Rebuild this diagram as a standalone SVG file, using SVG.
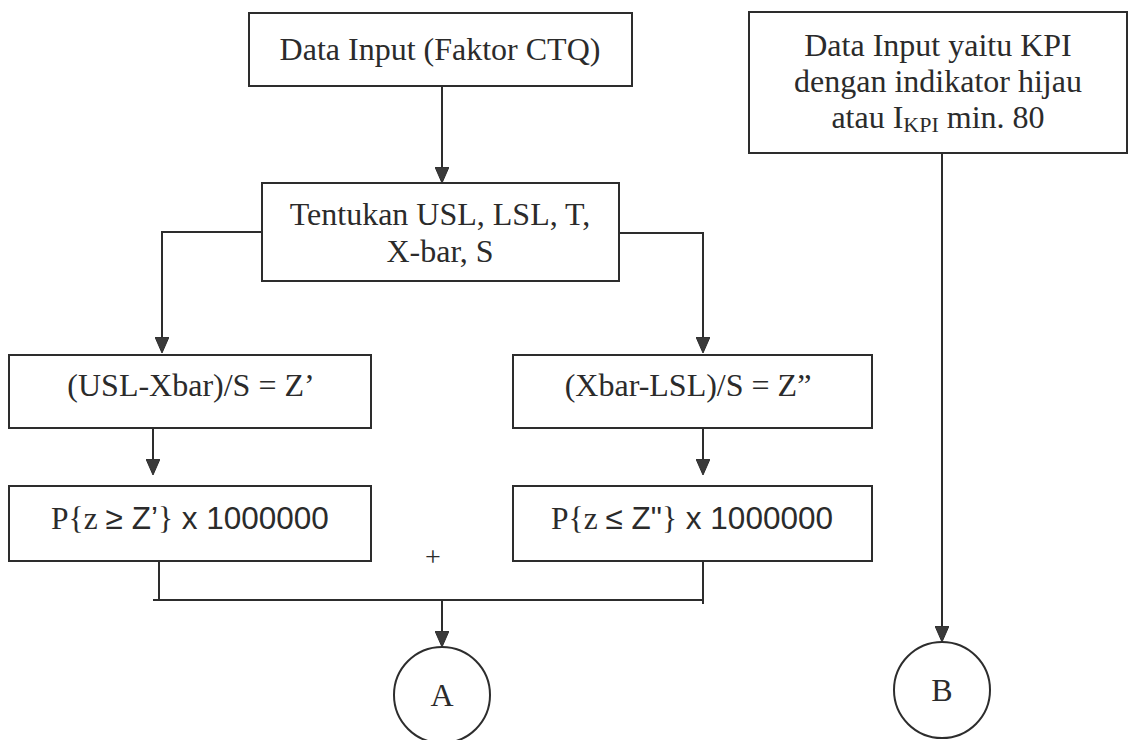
<svg xmlns="http://www.w3.org/2000/svg" width="1129" height="740" viewBox="0 0 1129 740">
  <style>
    .box { fill: #ffffff; stroke: #2d2d2d; stroke-width: 2; }
    .conn { fill: none; stroke: #2d2d2d; stroke-width: 2; }
    .t { font-family: "Liberation Serif", "Times New Roman", serif; font-size: 32px; fill: #2b2b2b; text-anchor: middle; }
    .s { font-family: "Liberation Sans", Arial, sans-serif; }
    .sub { font-size: 22px; }
  </style>
  <defs>
    <marker id="arrow" viewBox="0 0 16 14" refX="14" refY="7" markerWidth="16" markerHeight="14" markerUnits="userSpaceOnUse" orient="auto">
      <path d="M0,0 L16,7 L0,14 Z" fill="#3a3a3a" stroke="#2d2d2d" stroke-width="1"/>
    </marker>
  </defs>
  <rect width="1129" height="740" fill="#ffffff"/>

  <!-- connectors -->
  <g id="connectors">
    <line class="conn" x1="442" y1="86" x2="442" y2="181" marker-end="url(#arrow)"/>
    <polyline class="conn" points="262,232 162,232 162,351" marker-end="url(#arrow)"/>
    <polyline class="conn" points="608,233 703,233 703,351" marker-end="url(#arrow)"/>
    <line class="conn" x1="153" y1="428" x2="153" y2="473" marker-end="url(#arrow)"/>
    <line class="conn" x1="703" y1="428" x2="703" y2="473" marker-end="url(#arrow)"/>
    <polyline class="conn" points="159,553 159,600"/>
    <polyline class="conn" points="153,600 703,600"/>
    <polyline class="conn" points="703,561 703,604"/>
    <line class="conn" x1="442" y1="600" x2="442" y2="645" marker-end="url(#arrow)"/>
    <line class="conn" x1="942" y1="153" x2="942" y2="640" marker-end="url(#arrow)"/>
    <text class="t" x="433" y="566" style="font-size:28px">+</text>
  </g>

  <g id="node-data-input">
    <rect class="box" x="249" y="13" width="383" height="73"/>
    <text class="t" x="440" y="60">Data Input (Faktor CTQ)</text>
  </g>

  <g id="node-kpi-input">
    <rect class="box" x="749" y="12" width="378" height="141"/>
    <text class="t" x="938" y="56">Data Input yaitu KPI</text>
    <text class="t" x="938" y="92">dengan indikator hijau</text>
    <text class="t" x="938" y="128">atau I<tspan class="sub" dy="4">KPI</tspan><tspan dy="-4"> min. 80</tspan></text>
  </g>

  <g id="node-spec">
    <rect class="box" x="262" y="183" width="357" height="98"/>
    <text class="t" x="440" y="225">Tentukan USL, LSL, T,</text>
    <text class="t" x="440" y="262">X-bar, S</text>
  </g>

  <g id="node-z-upper">
    <rect class="box" x="9" y="355" width="362" height="73"/>
    <text class="t" x="191" y="396">(USL-Xbar)/S = Z’</text>
  </g>

  <g id="node-z-lower">
    <rect class="box" x="513" y="355" width="359" height="73"/>
    <text class="t" x="688" y="396">(Xbar-LSL)/S = Z”</text>
  </g>

  <g id="node-p-upper">
    <rect class="box" x="9" y="486" width="362" height="75"/>
    <text class="t" x="190" y="529" style="font-size:31.5px">P{z <tspan class="s">≥ Z’</tspan>}<tspan class="s"> x 1000000</tspan></text>
  </g>

  <g id="node-p-lower">
    <rect class="box" x="513" y="486" width="359" height="75"/>
    <text class="t" x="692" y="529" style="font-size:31.5px">P{z <tspan class="s">≤ Z"</tspan>}<tspan class="s"> x 1000000</tspan></text>
  </g>

  <g id="node-a">
    <circle class="box" cx="442" cy="695" r="48"/>
    <text class="t" x="442" y="706">A</text>
  </g>

  <g id="node-b">
    <circle class="box" cx="942" cy="690" r="48"/>
    <text class="t" x="942" y="701">B</text>
  </g>
</svg>
